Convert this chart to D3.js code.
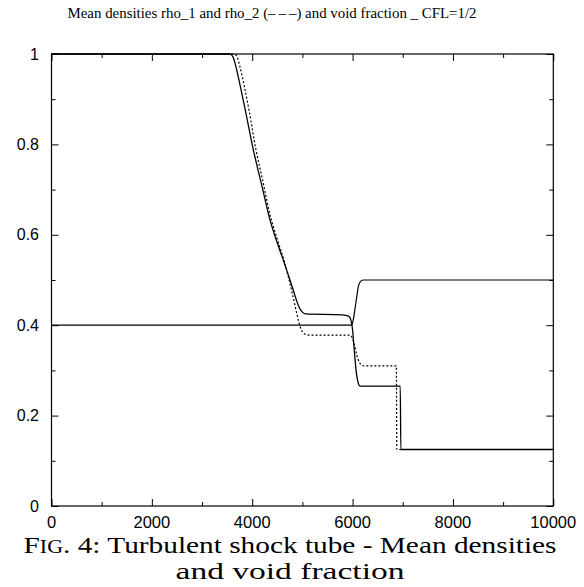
<!DOCTYPE html>
<html>
<head>
<meta charset="utf-8">
<script src="https://cdn.jsdelivr.net/npm/d3@7"></script>
<style>
  html, body { margin: 0; padding: 0; background: #fff; }
  svg { display: block; }
</style>
</head>
<body>
<svg id="chart" width="584" height="587"></svg>
<script>
// ---- data ----
const title = "Mean densities rho_1 and rho_2 (\u2013\u2009\u2013\u2009\u2013) and void fraction _ CFL=1/2";
const captionLine1 = ["F", "ig", ". 4: Turbulent shock tube - Mean densities"];
const captionLine2 = "and void fraction";

const xTicks = [0, 2000, 4000, 6000, 8000, 10000];
const xMinorTicks = [1000, 3000, 5000, 7000, 9000];
const yTicks = [0, 0.2, 0.4, 0.6, 0.8, 1];
const yMinorTicks = [0.1, 0.3, 0.5, 0.7, 0.9];

// rho_1 (solid)
const rho1X = [0, 3560, 3620, 3680, 3760, 3862, 4022, 4200, 4354, 4500, 4620, 4800, 4930, 4990, 5060, 5800, 5920, 5970, 6000, 6028, 6070, 6115, 6148, 6200, 6950, 6962, 10000];
const rho1Y = [1, 1, 0.993, 0.97, 0.93, 0.876, 0.788, 0.705, 0.633, 0.582, 0.544, 0.484, 0.441, 0.43, 0.425, 0.423, 0.42, 0.41, 0.39, 0.352, 0.30, 0.271, 0.265, 0.265, 0.265, 0.125, 0.125];

// rho_2 (dotted)
const rho2X = [0, 3640, 3700, 3760, 3840, 3936, 4075, 4200, 4360, 4500, 4650, 4800, 4900, 4960, 5010, 5080, 5150, 5950, 5990, 6040, 6082, 6134, 6200, 6240, 6872, 6882, 10000];
const rho2Y = [1, 1, 0.993, 0.97, 0.93, 0.876, 0.788, 0.725, 0.642, 0.59, 0.537, 0.47, 0.42, 0.395, 0.384, 0.379, 0.378, 0.378, 0.373, 0.355, 0.335, 0.318, 0.311, 0.31, 0.31, 0.125, 0.125];

// void fraction (solid)
const alphaX = [0, 5980, 6010, 6040, 6083, 6120, 6170, 6215, 10000];
const alphaY = [0.4, 0.4, 0.41, 0.43, 0.463, 0.488, 0.498, 0.5, 0.5];

// ---- layout ----
const svg = d3.select("#chart");
const L = 51.5, R = 553.3, T = 54, B = 506;

const x = d3.scaleLinear().domain([0, 10000]).range([L, R]);
const y = d3.scaleLinear().domain([0, 1]).range([B, T]);

svg.append("text")
  .attr("x", 272).attr("y", 18)
  .attr("text-anchor", "middle")
  .attr("font-family", "'Liberation Serif', 'Times New Roman', serif")
  .attr("font-size", 14.5)
  .attr("textLength", 409).attr("lengthAdjust", "spacingAndGlyphs")
  .text(title);

// axes with inward ticks (major + minor), mirrored on top / right
function axisGroup(axisFn, scale, ticks, size, transform) {
  svg.append("g")
    .attr("transform", transform)
    .call(axisFn(scale).tickValues(ticks).tickSize(size).tickFormat(""))
    .call(g => g.select(".domain").remove())
    .call(g => g.selectAll("line").attr("stroke", "#000").attr("stroke-width", 1));
}
axisGroup(d3.axisBottom, x, xTicks, -7, `translate(0,${B})`);
axisGroup(d3.axisBottom, x, xMinorTicks, -4, `translate(0,${B})`);
axisGroup(d3.axisTop, x, xTicks, -7, `translate(0,${T})`);
axisGroup(d3.axisTop, x, xMinorTicks, -4, `translate(0,${T})`);
axisGroup(d3.axisLeft, y, yTicks, -7, `translate(${L},0)`);
axisGroup(d3.axisLeft, y, yMinorTicks, -4, `translate(${L},0)`);
axisGroup(d3.axisRight, y, yTicks, -7, `translate(${R},0)`);
axisGroup(d3.axisRight, y, yMinorTicks, -4, `translate(${R},0)`);

svg.append("rect")
  .attr("x", L).attr("y", T).attr("width", R - L).attr("height", B - T)
  .attr("fill", "none").attr("stroke", "#000").attr("stroke-width", 1.2);

// tick labels
const labelFont = "'Liberation Sans', Arial, Helvetica, sans-serif";
svg.append("g").selectAll("text").data(xTicks).join("text")
  .attr("x", d => x(d)).attr("y", 528)
  .attr("text-anchor", "middle")
  .attr("font-family", labelFont).attr("font-size", 16.5)
  .text(d => String(d));
svg.append("g").selectAll("text").data(yTicks).join("text")
  .attr("x", 39).attr("y", d => y(d) + 5.5)
  .attr("text-anchor", "end")
  .attr("font-family", labelFont).attr("font-size", 16)
  .text(d => d3.format("~g")(d));

// curves
const line = d3.line().x(d => x(d[0])).y(d => y(d[1])).curve(d3.curveMonotoneX);
const zip = (a, b) => a.map((v, i) => [v, b[i]]);

svg.append("path").datum(zip(alphaX, alphaY))
  .attr("d", line).attr("fill", "none").attr("stroke", "#000").attr("stroke-width", 1.2);
svg.append("path").datum(zip(rho1X, rho1Y))
  .attr("d", line).attr("fill", "none").attr("stroke", "#000").attr("stroke-width", 1.3);
svg.append("path").datum(zip(rho2X, rho2Y))
  .attr("d", line).attr("fill", "none").attr("stroke", "#000").attr("stroke-width", 1.2)
  .attr("stroke-dasharray", "2,2");

// caption
const capFont = "'Liberation Serif', 'DejaVu Serif', serif";
const cap1 = svg.append("text")
  .attr("x", 290).attr("y", 553)
  .attr("text-anchor", "middle")
  .attr("font-family", capFont).attr("font-size", 24)
  .attr("textLength", 533).attr("lengthAdjust", "spacingAndGlyphs");
cap1.append("tspan").text(captionLine1[0]);
cap1.append("tspan").attr("font-size", 18).text(captionLine1[1].toUpperCase());
cap1.append("tspan").text(captionLine1[2]);

svg.append("text")
  .attr("x", 290).attr("y", 579)
  .attr("text-anchor", "middle")
  .attr("font-family", capFont).attr("font-size", 24)
  .attr("textLength", 229).attr("lengthAdjust", "spacingAndGlyphs")
  .text(captionLine2);
</script>
</body>
</html>
